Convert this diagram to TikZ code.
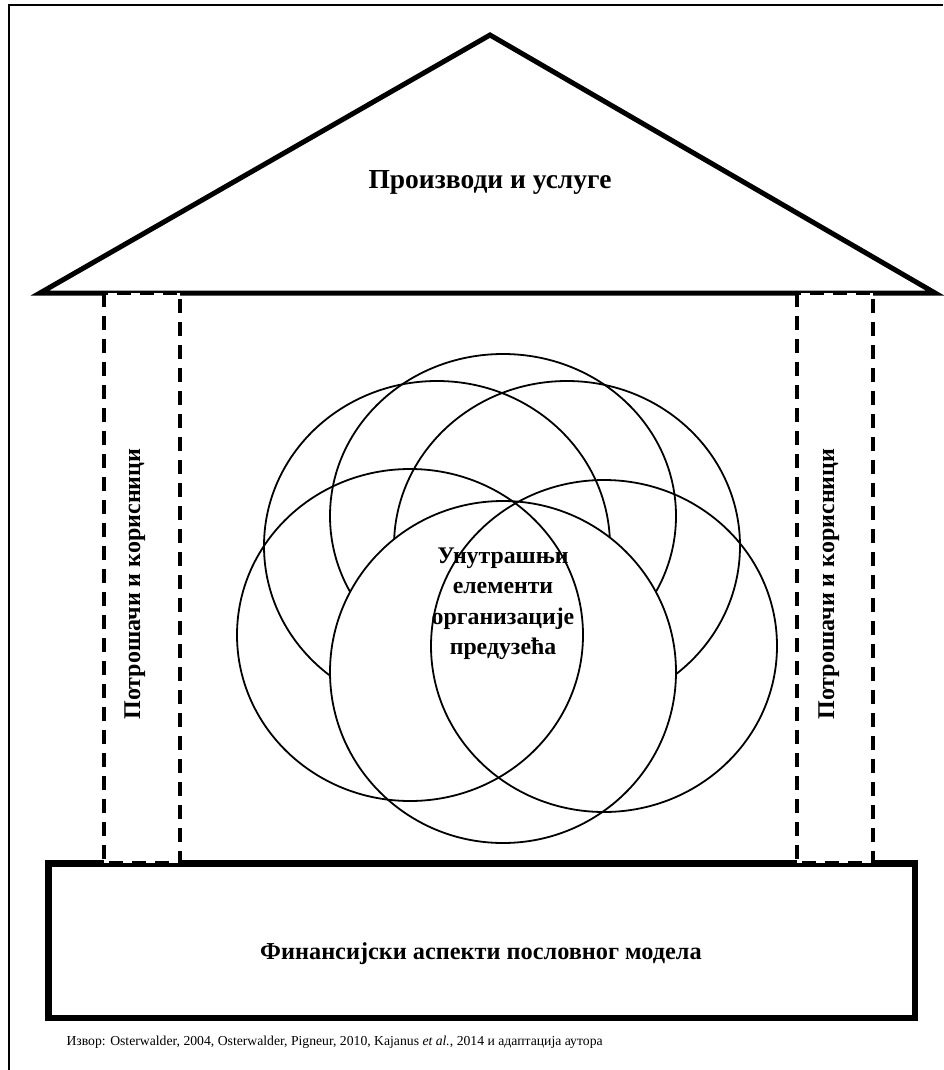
\documentclass[tikz,border=0pt]{standalone}
\usepackage{fontspec}
\setmainfont{Liberation Serif}
\usetikzlibrary{calc}
\def\oval[#1](#2)(#3:#4){\draw[#1] (#2) ellipse ({#3pt} and {#4pt});}

\begin{document}
\begin{tikzpicture}[x=1pt, y=-1pt,
		frameline/.style={line width=2.6pt},
		roofline/.style={line width=5pt},
		pillar/.style={line width=3.5pt, dash pattern=on 14pt off 9pt, fill=white},
		footbox/.style={line width=6.5pt},
		ring/.style={line width=1.8pt},
		bigbold/.style={font=\bfseries\fontsize{27.5}{32}\selectfont},
		midbold/.style={font=\bfseries\fontsize{24.3}{28}\selectfont},
		sidebold/.style={font=\bfseries\fontsize{24}{28}\selectfont, rotate=90, anchor=base},
		corebold/.style={font=\bfseries\fontsize{23.8}{30.5}\selectfont, align=center},
		sourcetext/.style={font=\fontsize{13.7}{16}\selectfont, anchor=base west}]
			%%%%% START %%%%%
			
			\useasboundingbox (0, 0) rectangle (943, 1070);
			\draw[frameline] (9, 1070) -- (9, 5) -- (943, 5);
			
			% roof
			\draw[roofline] (40, 293) -- (490, 35) -- (935, 293) -- cycle;
			\node[bigbold, anchor=base] (products) at (490, 188) {Производи и услуге};
			
			% foundation
			\draw[footbox] (48.5, 863.7) rectangle (915, 1018);
			\node[midbold, anchor=base] (finance) at (481, 959) {Финансијски аспекти пословног модела};
			
			% columns
			\draw[pillar] (104, 293) rectangle (180, 863);
			\draw[pillar] (797, 293) rectangle (873, 863);
			\node[sidebold] (usersL) at (140, 584) {Потрошачи и корисници};
			\node[sidebold] (usersR) at (834, 584) {Потрошачи и корисници};
			
			% inner elements
			\oval[ring](503, 516)(173:162);
			\oval[ring](437, 546)(173:165);
			\oval[ring](567, 546)(173:165);
			\oval[ring, fill=white](503, 672)(173:171);
			\oval[ring](410, 635)(173:166);
			\oval[ring](604, 646)(173:166);
			\node[corebold] (core) at (503, 604) {Унутрашњи\\елементи\\организације\\предузећа};
			
			% source
			\node[sourcetext] (source) at (63, 1045) {Извор: Osterwalder, 2004, Osterwalder, Pigneur, 2010, Kajanus \textit{et al.}, 2014 и адаптација аутора};
			
			%%%%% END %%%%%
		\end{tikzpicture}
\end{document}
